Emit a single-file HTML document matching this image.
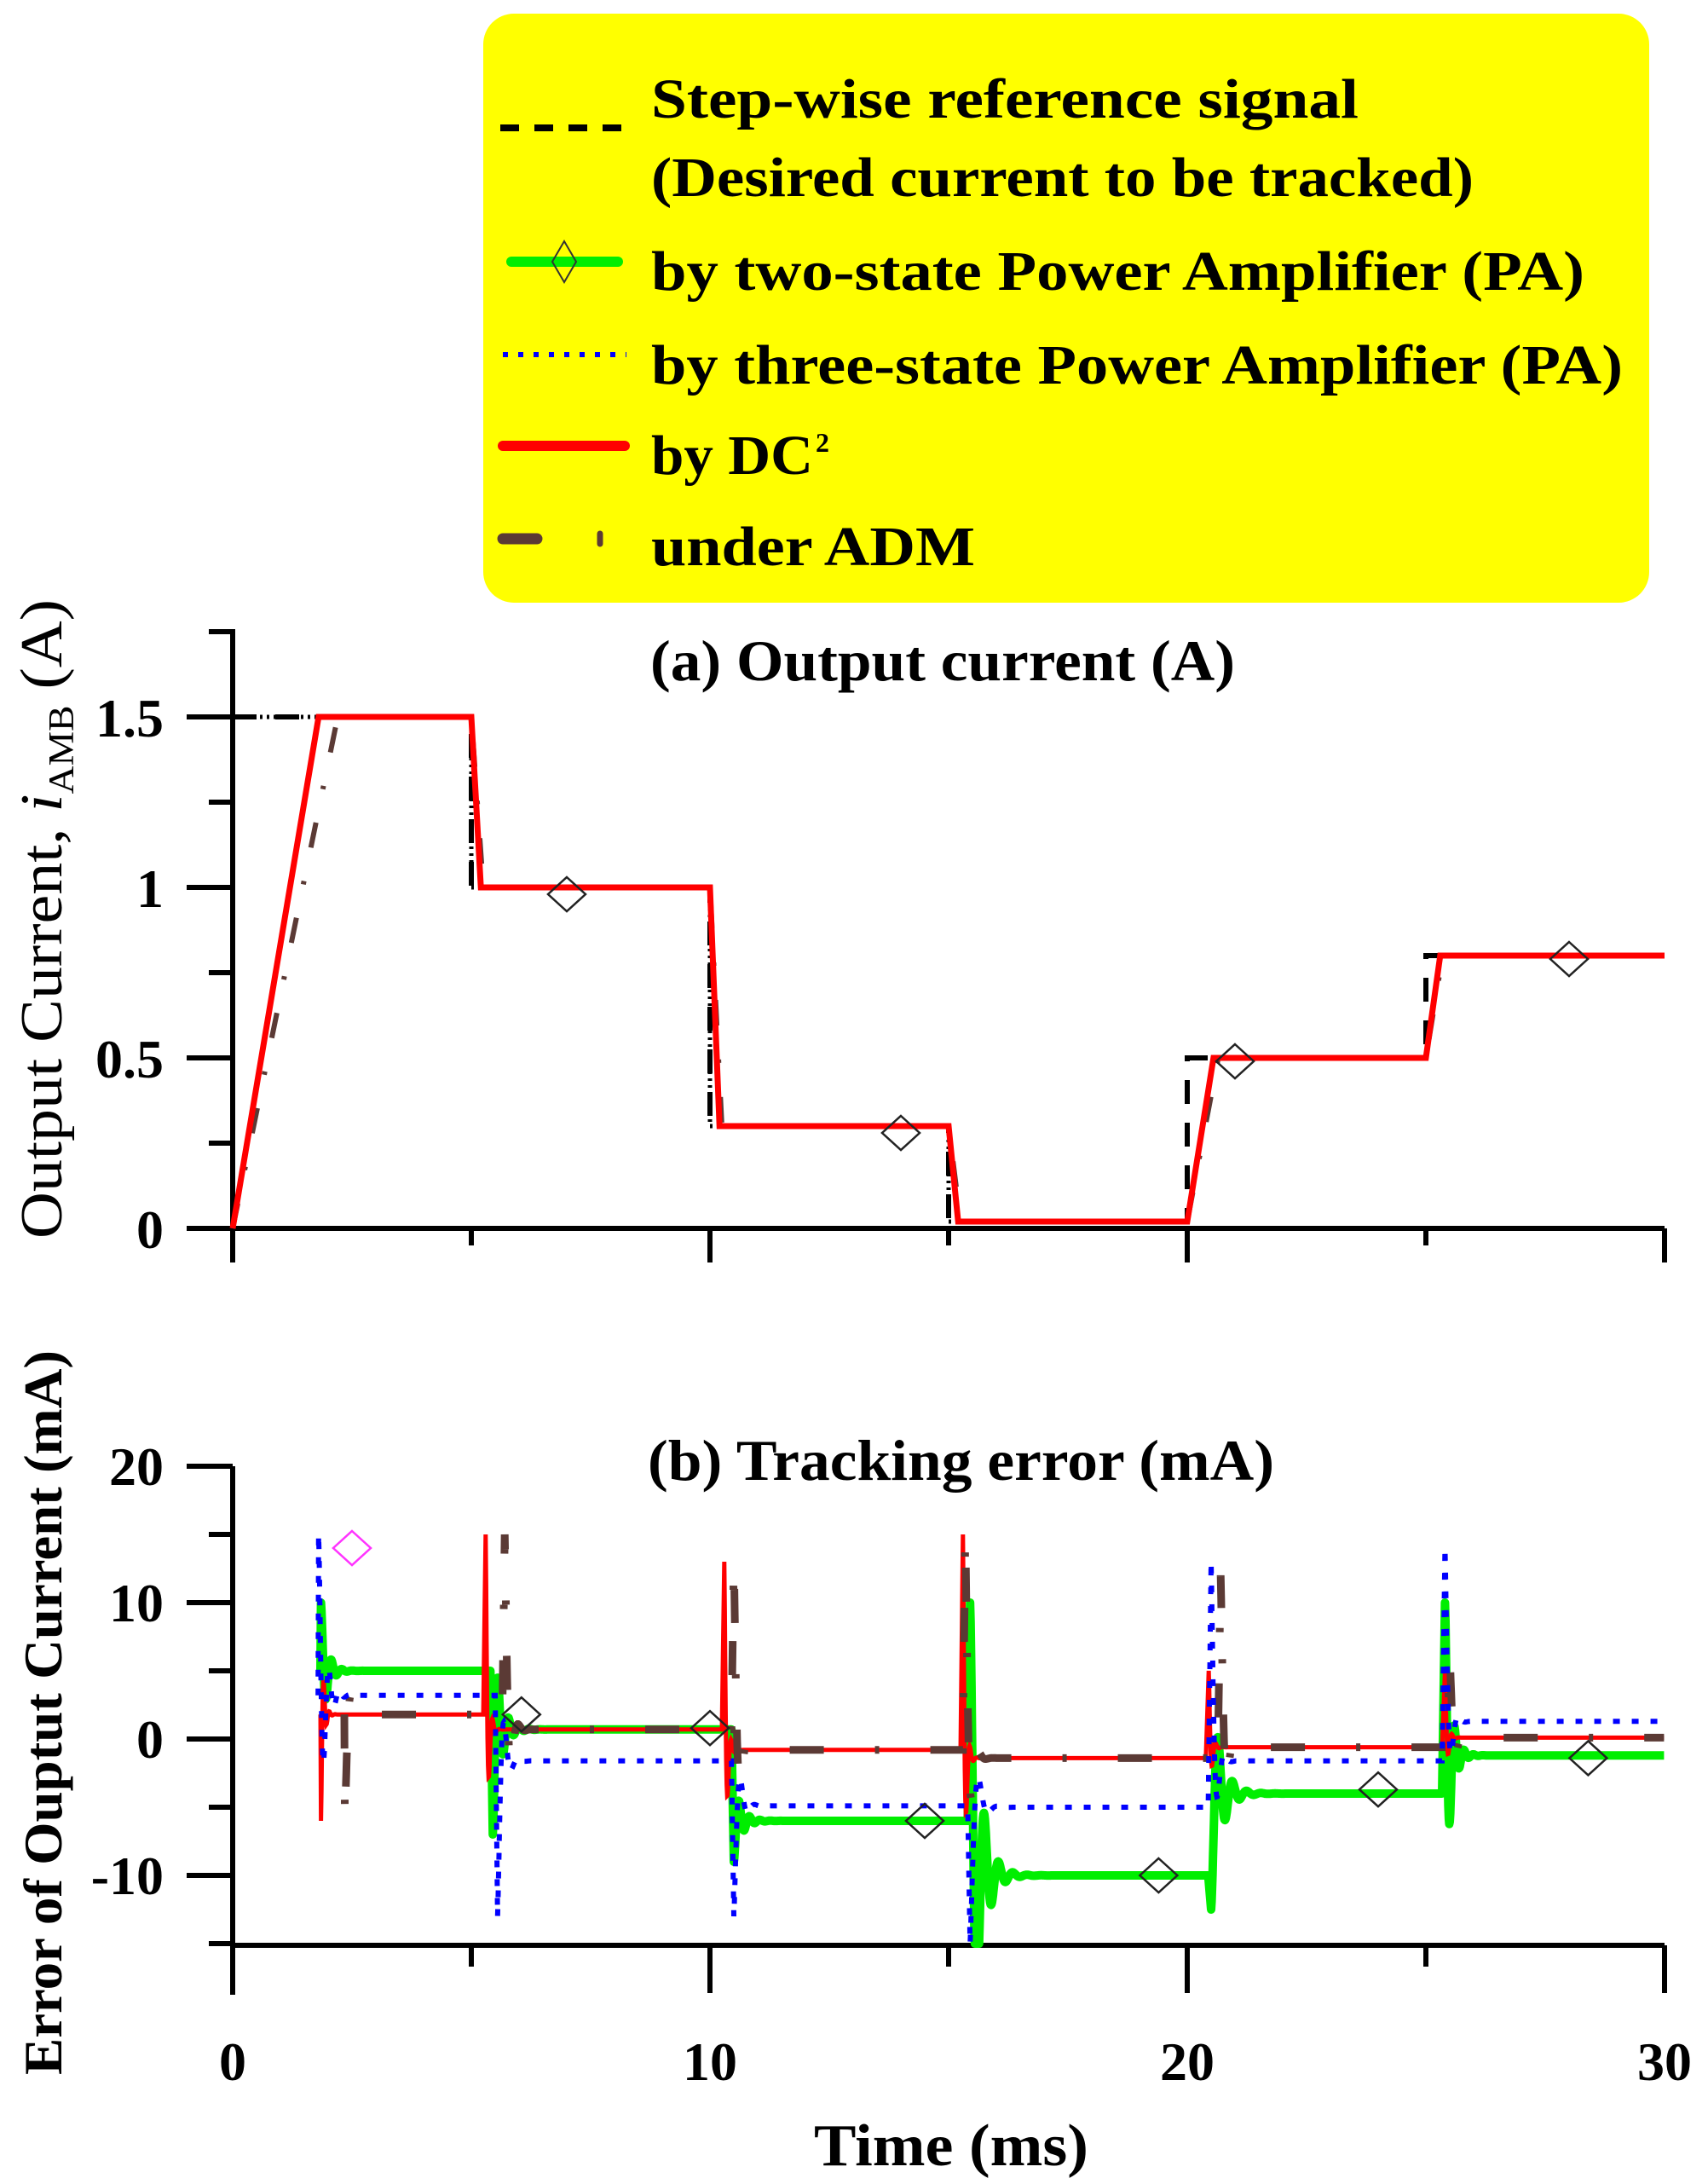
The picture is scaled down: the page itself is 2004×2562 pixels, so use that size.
<!DOCTYPE html>
<html><head><meta charset="utf-8"><style>
html,body{margin:0;padding:0;background:#fff}
svg{display:block}
text{font-family:"Liberation Serif",serif;font-weight:bold;fill:#000}
</style></head><body>
<svg id="s" xmlns="http://www.w3.org/2000/svg" width="2004" height="2562" viewBox="0 0 2004 2562">
<rect width="2004" height="2562" fill="#fff"/>
<rect x="567" y="16" width="1368" height="691" rx="36" fill="#ffff00"/>
<line x1="587" y1="150" x2="734" y2="150" stroke="#000" stroke-width="8" stroke-dasharray="22,18"/>
<text x="764" y="138" font-size="66" textLength="830" lengthAdjust="spacingAndGlyphs">Step-wise reference signal</text>
<text x="764" y="230" font-size="66" textLength="965" lengthAdjust="spacingAndGlyphs">(Desired current to be tracked)</text>
<line x1="600" y1="307" x2="725" y2="307" stroke="#00ee00" stroke-width="12" stroke-linecap="round"/>
<path d="M662 283 L676 307 L662 331 L648 307 Z" fill="none" stroke="#333" stroke-width="2"/>
<text x="764" y="340" font-size="66" textLength="1095" lengthAdjust="spacingAndGlyphs">by two-state Power Amplifier (PA)</text>
<line x1="590" y1="416" x2="735" y2="416" stroke="#0000ff" stroke-width="6" stroke-dasharray="6,12"/>
<text x="764" y="450" font-size="66" textLength="1140" lengthAdjust="spacingAndGlyphs">by three-state Power Amplifier (PA)</text>
<line x1="590" y1="523" x2="733" y2="523" stroke="#ff0000" stroke-width="12" stroke-linecap="round"/>
<text x="764" y="556" font-size="66" textLength="190" lengthAdjust="spacingAndGlyphs">by DC</text>
<text x="957" y="530" font-size="32">2</text>
<line x1="590" y1="632" x2="630" y2="632" stroke="#5b3a35" stroke-width="13" stroke-linecap="round"/>
<line x1="704" y1="626" x2="704" y2="638" stroke="#5b3a35" stroke-width="7" stroke-linecap="round"/>
<text x="764" y="663" font-size="66" textLength="380" lengthAdjust="spacingAndGlyphs">under ADM</text>

<g id="axes" stroke="#000" stroke-width="6" fill="none"></g>
<g id="data"></g>

<text x="763" y="798" font-size="68" textLength="686" lengthAdjust="spacingAndGlyphs">(a) Output current (A)</text>
<text x="760" y="1736" font-size="68" textLength="735" lengthAdjust="spacingAndGlyphs">(b) Tracking error (mA)</text>
<text x="955" y="2540" font-size="70" textLength="322" lengthAdjust="spacingAndGlyphs">Time (ms)</text>
<g font-size="64" text-anchor="end">
<text x="192" y="864">1.5</text><text x="192" y="1064">1</text><text x="192" y="1264">0.5</text><text x="192" y="1464">0</text>
<text x="192" y="1742">20</text><text x="192" y="1902">10</text><text x="192" y="2062">0</text><text x="192" y="2222">-10</text>
</g>
<g font-size="64" text-anchor="middle">
<text x="273" y="2440">0</text><text x="833" y="2440">10</text><text x="1393" y="2440">20</text><text x="1953" y="2440">30</text>
</g>
<text transform="translate(72,1078) rotate(-90)" font-size="70" text-anchor="middle" style="font-weight:normal" textLength="750" lengthAdjust="spacingAndGlyphs">Output Current, <tspan font-style="italic">i</tspan><tspan font-size="42" dy="14">AMB</tspan><tspan dy="-14"> (A)</tspan></text>
<text transform="translate(72,2009) rotate(-90)" font-size="64" text-anchor="middle" textLength="850" lengthAdjust="spacingAndGlyphs">Error of Ouptut Current (mA)</text>
</svg>
<script>
var NS="http://www.w3.org/2000/svg";
function el(p,t,a){var e=document.createElementNS(NS,t);for(var k in a)e.setAttribute(k,a[k]);p.appendChild(e);return e;}
var ax=document.getElementById("axes"),dg=document.getElementById("data");
function X(t){return 273+56*t;}
function Y1(v){return 1441-400*v;}
function Y2(v){return 2040-16*v;}
el(ax,"path",{d:"M273 738 L273 1441 L1953 1441"});
for(var i=0;i<=7;i++){var y=1441-100*i;el(ax,"line",{x1:(i%2?245:219),y1:y,x2:273,y2:y});}
for(var t=0;t<=30;t+=5){el(ax,"line",{x1:X(t),y1:1441,x2:X(t),y2:1441+(t%10?20:40)});}
el(ax,"path",{d:"M273 1720 L273 2282 L1953 2282"});
for(var v=20;v>=-15;v-=5){var y=Y2(v);el(ax,"line",{x1:(v%10?245:219),y1:y,x2:273,y2:y});}
for(var t=0;t<=30;t+=5){el(ax,"line",{x1:X(t),y1:2282,x2:X(t),y2:2282+(t%10?25:56)});}
el(ax,"line",{x1:273,y1:2282,x2:273,y2:2340});
function poly(pts,Y,attrs){var d="";pts.forEach(function(p,i){d+=(i?"L":"M")+X(p[0]).toFixed(1)+" "+Y(p[1]).toFixed(1)+" ";});attrs.d=d;attrs.fill="none";el(dg,"path",attrs);}
var ref=[[0,1.5],[5,1.5],[5,1],[10,1],[10,0.3],[15,0.3],[15,0.02],[20,0.02],[20,0.5],[25,0.5],[25,0.8],[30,0.8]];
var out=[[0,0],[1.8,1.5],[5,1.5],[5.2,1],[10,1],[10.2,0.3],[15,0.3],[15.2,0.02],[20,0.02],[20.55,0.5],[25,0.5],[25.3,0.8],[30,0.8]];
var adm=[[0,0],[2.2,1.5],[5,1.5],[5.25,1],[10,1],[10.25,0.3],[15,0.3],[15.25,0.02],[20,0.02],[20.65,0.5],[25,0.5],[25.35,0.8],[30,0.8]];
poly([[0,1.5],[5,1.5],[5,1],[10,1],[10,0.3],[15,0.3],[15,0.02],[20,0.02]],Y1,{stroke:"#000","stroke-width":5,"stroke-dasharray":"3,5"});
poly(adm,Y1,{stroke:"#5b3a35","stroke-width":6,"stroke-dasharray":"30,40,4,40"});
poly(out,Y1,{stroke:"#0000ff","stroke-width":4,"stroke-dasharray":"3,4"});
poly(ref,Y1,{stroke:"#000","stroke-width":6,"stroke-dasharray":"28,22"});
poly(out,Y1,{stroke:"#ff0000","stroke-width":7});
function dia(t,v,Y,c){var x=X(t),y=Y(v);el(dg,"path",{d:"M"+x+" "+(y-20)+"L"+(x+22)+" "+y+"L"+x+" "+(y+20)+"L"+(x-22)+" "+y+"Z",fill:"none",stroke:c||"#222","stroke-width":2.5});}
[[7,0.98],[14,0.28],[21,0.49],[28,0.79]].forEach(function(p){dia(p[0],p[1],Y1);});
function series(segs){var pts=[];segs.forEach(function(s,idx){var t0=s[0],A=s[1],L=s[2],tau=s[3]||0.12,P=s[4]||0.22;
 var tend=idx<segs.length-1?segs[idx+1][0]-0.05:30; if(idx==0)pts.push([t0-0.01,L]);
 pts.push([t0,A]);for(var t=t0+0.01;t<=tend;t+=0.01){var dt=t-t0;var v=L+(A-L)*Math.exp(-dt/tau)*Math.cos(2*Math.PI*dt/P);pts.push([t,v]);}});return pts;}
var green=series([[1.85,10,5],[5.45,-7,0.7,0.15],[10.5,-9,-6,0.15],[15.45,10,-10,0.2,0.3],[20.5,-12.5,-4,0.2,0.3],[25.4,10,-1.2,0.12,0.2]]);
var blue=series([[1.8,15,3.2],[5.55,-13,-1.6,0.1,0.3],[10.5,-13,-4.9,0.1,0.3],[15.45,-15,-5,0.12,0.4],[20.5,13,-1.6,0.08,0.3],[25.4,14,1.3,0.08,0.3]]);
var red=series([[1.85,-6,1.8,0.05,0.12],[5.3,15,0.7,0.05,0.15],[10.3,13,-0.8,0.05,0.15],[15.3,15,-1.4,0.05,0.15],[20.45,5,-0.6,0.05,0.15],[25.4,5,0.1,0.05,0.15]]);
var brown=series([[2.35,-6,1.8,0.08,0.3],[5.7,15,0.7,0.08,0.3],[10.5,13,-0.8,0.08,0.3],[15.35,15,-1.4,0.08,0.3],[20.7,12,-0.6,0.08,0.3],[25.5,6,0.1,0.08,0.3]]);
function clip(p){return p.map(function(q){return [q[0],Math.max(-15,Math.min(20,q[1]))];});}
poly(clip(green),Y2,{stroke:"#00ee00","stroke-width":10,"stroke-linejoin":"round"});
poly(clip(red),Y2,{stroke:"#ff0000","stroke-width":5});
poly(clip(brown),Y2,{stroke:"#5b3a35","stroke-width":9,"stroke-dasharray":"40,60,5,60"});
poly(clip(blue),Y2,{stroke:"#0000ff","stroke-width":6,"stroke-dasharray":"8,14"});
[[6.05,1.8],[10,0.8],[14.5,-6],[19.4,-10],[24,-3.7],[28.4,-1.4]].forEach(function(p){dia(p[0],p[1],Y2);});
dia(2.5,14,Y2,"#ff33ff");
</script>
</body></html>
